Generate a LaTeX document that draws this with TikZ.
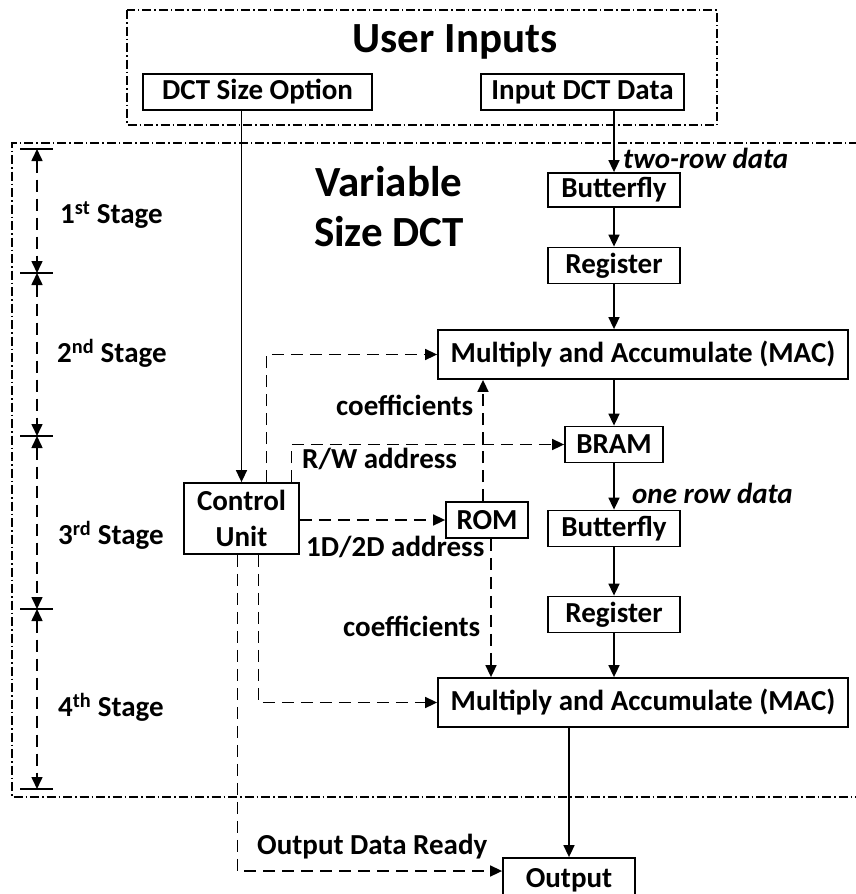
\documentclass[tikz,border=0pt]{standalone}
\usepackage{fontspec}
\setmainfont{Carlito}
\usetikzlibrary{arrows.meta, positioning, calc}

\begin{document}
\begin{tikzpicture}[
    x=1pt, y=-1pt,
    every node/.style={inner sep=0pt, font=\fontsize{29}{33}\selectfont\bfseries},
    blk/.style={draw, line width=1.8pt, minimum height=36pt, align=center},
    lbl/.style={anchor=west},
    lbli/.style={anchor=west, font=\fontsize{29}{33}\selectfont\bfseries\itshape},
    big/.style={font=\fontsize{43}{50}\selectfont\bfseries, align=center},
    flow/.style={line width=1.6pt, -{Triangle[length=12pt,width=11pt]}},
    ctl/.style={flow, dash pattern=on 12pt off 7pt},
    frame/.style={line width=1.1pt, dash pattern=on 9pt off 3pt on 1.5pt off 3pt},
    dim/.style={line width=1.6pt, dash pattern=on 12pt off 7pt,
        {Triangle[length=12pt,width=11pt]}-{Triangle[length=12pt,width=11pt]}}
]
    \useasboundingbox (0,0) rectangle (855,894);

    % the two dash-dot regions
    \draw[frame] (127,10) rectangle (717,125);
    \draw[frame] (858,143) -- (12,143) -- (12,797) -- (858,797);

    \node[big] (uin) at (455,42) {User Inputs};
    \node[big] (vsd) at (389,207) {Variable\\Size DCT};

    % blocks
    \node[blk, minimum width=229pt] (dsize) at (257.5,92) {DCT Size Option};
    \node[blk, minimum width=203pt] (indata) at (582.5,92) {Input DCT Data};
    \node[blk, minimum width=132pt, minimum height=34pt] (bfly1) at (614,190) {Butterfly};
    \node[blk, minimum width=132pt] (reg1) at (614,265.5) {Register};
    \node[blk, minimum width=410pt, minimum height=49pt] (mac1) at (643,354.5) {Multiply and Accumulate (MAC)};
    \node[blk, minimum width=98pt] (bram) at (614,444.5) {BRAM};
    \node[blk, minimum width=132pt] (bfly2) at (614,528.5) {Butterfly};
    \node[blk, minimum width=82pt] (rom) at (487,520) {ROM};
    \node[blk, minimum width=132pt] (reg2) at (614,614.5) {Register};
    \node[blk, minimum width=410pt, minimum height=49pt] (mac2) at (643,702.5) {Multiply and Accumulate (MAC)};
    \node[blk, minimum width=132pt, minimum height=44pt] (outp) at (569,880) {Output};
    \node[blk, minimum width=115pt, minimum height=71pt,
        font=\fontsize{29}{36}\selectfont\bfseries] (ctrl) at (241.5,518.5) {Control\\Unit};

    % data path
    \draw[flow] (bfly1.north |- indata.south) -- (bfly1.north);
    \draw[flow] (bfly1) -- (reg1);
    \draw[flow] (reg1) -- (reg1 |- mac1.north);
    \draw[flow] (mac1.south -| bram) -- (bram);
    \draw[flow] (bram) -- (bfly2);
    \draw[flow] (bfly2) -- (reg2);
    \draw[flow] (reg2) -- (reg2 |- mac2.north);
    \draw[flow] (outp.north |- mac2.south) -- (outp.north);
    \draw[flow] (ctrl.north |- dsize.south) -- (ctrl.north);

    % control signals
    \coordinate (cmac) at ([xshift=25pt]ctrl.north);
    \coordinate (cbram) at ([xshift=50pt]ctrl.north);
    \coordinate (cmac2) at ([xshift=17pt]ctrl.south);
    \coordinate (cout) at ([xshift=-4pt]ctrl.south);
    \coordinate (romup) at ([xshift=-4pt]rom.north);
    \coordinate (romdn) at ([xshift=4pt]rom.south);
    \draw[ctl] (cmac) |- (mac1.west);
    \draw[ctl] (cbram) |- (bram.west);
    \draw[ctl] (ctrl.east |- rom.west) -- (rom.west);
    \draw[ctl] (romup) -- (romup |- mac1.south);
    \draw[ctl] (romdn) -- (romdn |- mac2.north);
    \draw[ctl] (cmac2) |- (mac2.west);
    \draw[ctl] (cout) |- ([yshift=9pt]outp.west);

    \node[lbli] at (623,158) {two-row data};
    \node[lbli] at (632,493) {one row data};
    \node[lbl] at (302,459) {R/W address};
    \node[lbl] at (306,547) {1D/2D address};
    \node[lbl] at (336,405) {coefficients};
    \node[lbl] at (343,626) {coefficients};
    \node[lbl] at (257,847) {Output Data Ready};

    % stages
    \foreach \i/\y in {1/149,2/273,3/436,4/609,5/789} {
        \coordinate (t\i) at (37,\y);
        \draw[line width=1.6pt] ([xshift=-17pt]t\i) -- ([xshift=16pt]t\i);
    }
    \foreach \a/\b in {1/2,2/3,3/4,4/5}
        \draw[dim] (t\a) -- (t\b);
    \node[lbl] at (60,215) {1\textsuperscript{st} Stage};
    \node[lbl] at (57,353) {2\textsuperscript{nd} Stage};
    \node[lbl] at (58,535) {3\textsuperscript{rd} Stage};
    \node[lbl] at (58,707) {4\textsuperscript{th} Stage};
\end{tikzpicture}
\end{document}
